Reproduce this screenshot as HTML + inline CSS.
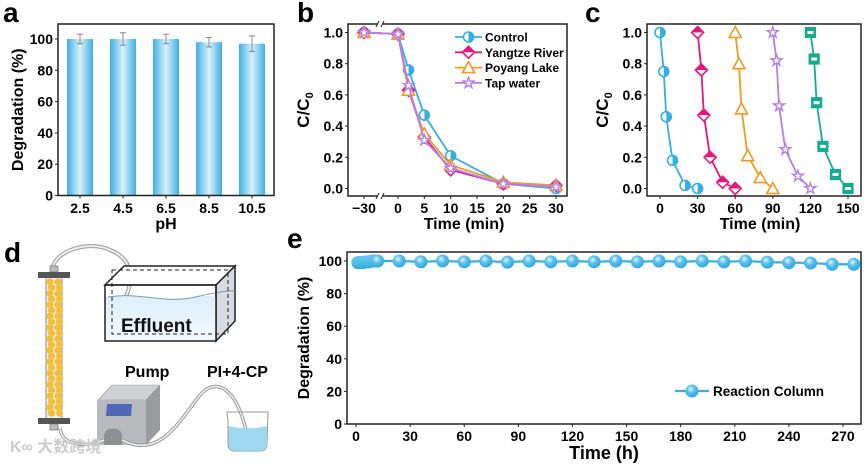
<!DOCTYPE html>
<html><head><meta charset="utf-8"><style>
body{margin:0;background:#fff;}
svg{display:block;font-family:"Liberation Sans",Arial,sans-serif;font-weight:bold;}
</style></head><body>
<svg id="fig" width="866" height="465" viewBox="0 0 866 465" xmlns="http://www.w3.org/2000/svg">
<defs>
<linearGradient id="barg" x1="0" x2="1" y1="0" y2="0">
<stop offset="0" stop-color="#3fb0e3"/><stop offset="0.5" stop-color="#d8f0fb"/><stop offset="1" stop-color="#3fb0e3"/></linearGradient>
<radialGradient id="ballg" cx="0.4" cy="0.35" r="0.7"><stop offset="0" stop-color="#e6f6fd"/><stop offset="0.4" stop-color="#5cc3ee"/><stop offset="1" stop-color="#2aa3da"/></radialGradient>
<linearGradient id="waterg" x1="0" x2="0" y1="0" y2="1"><stop offset="0" stop-color="#dceefb"/><stop offset="1" stop-color="#f4f9fd"/></linearGradient>
</defs>
<g id="pa"></g>
<g id="pb"></g>
<g id="pc"></g>
<g id="pd">
<text x="4" y="262" font-size="28">d</text>
<path d="M52 272 C52 250 90 240 110 250 C140 262 130 290 123 302" fill="none" stroke="#999" stroke-width="4"/>
<path d="M52 272 C52 250 90 240 110 250 C140 262 130 290 123 302" fill="none" stroke="#eee" stroke-width="2"/>
<rect x="46" y="277" width="16" height="143" fill="#eef2f6" stroke="#888"/>
<g id="beads"></g>
<rect x="38" y="272" width="32" height="6" fill="#555"/>
<rect x="38" y="418" width="32" height="6" fill="#555"/>
<rect x="50" y="266" width="8" height="6" fill="#bbb" stroke="#666" stroke-width="0.6"/>
<rect x="50" y="424" width="8" height="6" fill="#bbb" stroke="#666" stroke-width="0.6"/>
<polygon points="105,285 124,266 235,266 216,285" fill="#fff" stroke="#222" stroke-width="1.5"/>
<polygon points="216,285 235,266 235,321 216,341" fill="#d7dbe1" stroke="#222" stroke-width="1.5"/>
<path d="M108 297 C140 292 160 303 190 298 C205 295 212 296 216 297 L216 341 L105 341 L105 297 Z" fill="url(#waterg)"/>
<path d="M108 297 C140 292 160 303 190 298 C205 295 225 290 235 291" fill="none" stroke="#7d97b8" stroke-width="1"/>
<rect x="105" y="285" width="111" height="56" fill="none" stroke="#222" stroke-width="1.5"/>
<rect x="112" y="270" width="116" height="64" fill="none" stroke="#222" stroke-width="1" stroke-dasharray="4,3"/>
<text x="121" y="332" font-size="19" fill="#111">Effluent</text>
<text x="125" y="377" font-size="16">Pump</text>
<text x="207" y="377" font-size="16">PI+4-CP</text>
<polygon points="98,400 112,385 160,385 146,400" fill="#cfd0d3" stroke="#999" stroke-width="0.6"/>
<polygon points="146,400 160,385 160,430 146,445" fill="#9a9b9e"/>
<rect x="97" y="400" width="49" height="45" fill="#b8b9bc"/>
<polygon points="107,404 132,404 131,416 106,416" fill="#4f68b8"/>
<path d="M104 445 L104 436 C104 426 122 426 122 436 L122 445 Z" fill="#8e8f92"/>
<path d="M60 428 C62 450 95 445 104 440" fill="none" stroke="#999" stroke-width="3.5"/>
<path d="M60 428 C62 450 95 445 104 440" fill="none" stroke="#eee" stroke-width="1.6"/>
<path d="M122 440 C160 460 180 420 200 395 C215 378 235 385 246 430" fill="none" stroke="#999" stroke-width="3.5"/>
<path d="M122 440 C160 460 180 420 200 395 C215 378 235 385 246 430" fill="none" stroke="#eee" stroke-width="1.6"/>
<path d="M228 421 L227 412 L268 412 L267 444 C267 449 264 451 260 451 L235 451 C231 451 228 449 228 444 Z" fill="none" stroke="#999" stroke-width="1"/>
<path d="M228.5 426 C240 429 255 429 267 426 L267 444 C267 449 264 451 260 451 L235 451 C231 451 228.5 449 228.5 444 Z" fill="#8ed2ee" opacity="0.85"/>
<text x="10" y="452" font-size="16" fill="#ccc" font-family="'Liberation Sans','Noto Sans CJK SC',sans-serif">K∞ 大数跨境</text>
</g>
<g id="pe"></g>
</svg>
<script>
const phCats = ["2.5","4.5","6.5","8.5","10.5"];
const phVals = [100,100,100,98,97];
const phErr = [3,4,3,3,5];
const degTicks = [0,20,40,60,80,100];
const bTimes = [-30,0,2,5,10,20,30];
const bControl = [1,0.99,0.76,0.47,0.21,0.03,0.0];
const bYangtze = [1,0.99,0.63,0.33,0.12,0.03,0.02];
const bPoyang = [1,0.99,0.63,0.35,0.15,0.04,0.02];
const bTap = [1,0.99,0.66,0.31,0.13,0.03,0.01];
const bXTicks = [-30,0,5,10,15,20,25,30];
const ccTicks = [0,0.2,0.4,0.6,0.8,1.0];
const cTimes1 = [0,3,5,10,20,30];
const cVals1 = [1,0.75,0.46,0.18,0.02,0.0];
const cTimes2 = [30,33,35,40,50,60];
const cVals2 = [1,0.76,0.47,0.2,0.04,0.0];
const cTimes3 = [60,63,65,70,80,90];
const cVals3 = [1,0.8,0.51,0.21,0.07,0.0];
const cTimes4 = [90,93,95,100,110,120];
const cVals4 = [1,0.82,0.53,0.25,0.08,0.0];
const cTimes5 = [120,123,125,130,140,150];
const cVals5 = [1,0.83,0.55,0.27,0.09,0.0];
const cXTicks = [0,30,60,90,120,150];
const eTimes = [1,2,3,4,5,6,7,8,9,10,11,12,24,36,48,60,72,84,96,108,120,132,144,156,168,180,192,204,216,228,240,252,264,276];
const eVals = [99,99,99,99,99.3,99.5,99.5,99.7,100,100,100,100,100,99.5,100,99.5,100,99.3,100,99.5,100,99.5,100,99.5,100,99.5,100,99.5,100,99.3,99,98.8,98,98];
const eXTicks = [0,30,60,90,120,150,180,210,240,270];

const NS="http://www.w3.org/2000/svg";
function mk(parent,tag,attrs,text){const e=document.createElementNS(NS,tag);for(const k in attrs)e.setAttribute(k,attrs[k]);if(text!==undefined)e.textContent=text;parent.appendChild(e);return e;}
function lin(d0,d1,r0,r1){return v=>r0+(v-d0)*(r1-r0)/(d1-d0);}

(function(){
const g=document.getElementById('pa');
const L=58,R=274,T=24,B=195.5;
const y=lin(0,100,B,39);
const x=i=>80+i*43;
let t=mk(g,'text',{x:3,y:22,'font-size':28});t.textContent='a';


phVals.forEach((v,i)=>{
 let r=mk(g,'rect',{x:x(i)-13,y:y(v),width:26,height:B-y(v),fill:'url(#barg)'});
 
 
 let e=mk(g,'path',{d:`M${x(i)} ${y(v+phErr[i])}V${y(v-phErr[i])}M${x(i)-3} ${y(v+phErr[i])}H${x(i)+3}M${x(i)-3} ${y(v-phErr[i])}H${x(i)+3}`,stroke:'#888',fill:'none','stroke-width':1});
 
 
 let l=mk(g,'text',{x:x(i),y:213,'font-size':14,'text-anchor':'middle'},phCats[i]);
 
 
 mk(g,'line',{x1:x(i),x2:x(i),y1:B,y2:B+3,stroke:'#222'});
});
degTicks.forEach(v=>{mk(g,'line',{x1:L-3,x2:L,y1:y(v),y2:y(v),stroke:'#222'});
 let l=mk(g,'text',{x:L-5,y:y(v)+5,'font-size':14,'text-anchor':'end'},v);
 
 });
let f=mk(g,'rect',{x:L,y:T,width:R-L,height:B-T,fill:'none',stroke:'#222','stroke-width':1.5});


let xt=mk(g,'text',{x:166,y:229,'font-size':16,'text-anchor':'middle'},'pH');


let yt=mk(g,'text',{x:0,y:0,'font-size':16,'text-anchor':'middle',transform:`translate(23,${(T+B)/2}) rotate(-90)`},'Degradation (%)');


})();

function marker(g,type,cx,cy,col){
 let s=5;
 if(type==='circle'){mk(g,'circle',{cx,cy,r:s,fill:'#fff',stroke:col,'stroke-width':1.6});mk(g,'path',{d:`M${cx} ${cy-s}A${s} ${s} 0 0 1 ${cx} ${cy+s}Z`,fill:col});}
 else if(type==='diamond'){mk(g,'path',{d:`M${cx} ${cy-s-1}L${cx+s+1} ${cy}L${cx} ${cy+s+1}L${cx-s-1} ${cy}Z`,fill:'#fff',stroke:col,'stroke-width':1.6});mk(g,'path',{d:`M${cx} ${cy-s-1}L${cx+s+1} ${cy}L${cx-s-1} ${cy}Z`,fill:col});}
 else if(type==='tri'){mk(g,'path',{d:`M${cx} ${cy-s-1}L${cx+s+1} ${cy+s}L${cx-s-1} ${cy+s}Z`,fill:'#fff',stroke:col,'stroke-width':1.6});}
 else if(type==='star'){let p=[];for(let k=0;k<10;k++){let a=-Math.PI/2+k*Math.PI/5,r=k%2?s*0.45:s*1.15;p.push((cx+r*Math.cos(a)).toFixed(1)+','+(cy+r*Math.sin(a)).toFixed(1));}mk(g,'polygon',{points:p.join(' '),fill:'#fff',stroke:col,'stroke-width':1.4});}
 else if(type==='square'){mk(g,'rect',{x:cx-s,y:cy-s,width:2*s,height:2*s,fill:col,stroke:col,'stroke-width':1.2});mk(g,'rect',{x:cx-s+2,y:cy-1.5,width:2*s-4,height:3,fill:'#fff'});}
}
function series(parent,name,xs,ys,xf,yf,col,type){
 const g=mk(parent,'g',{});
 
 
 mk(g,'polyline',{points:xs.map((t,i)=>xf(t)+','+yf(ys[i])).join(' '),fill:'none',stroke:col,'stroke-width':1.8});
 xs.forEach((t,i)=>marker(g,type,xf(t),yf(ys[i]),col));
}
function yAxisCC(g,L,y){
 ccTicks.forEach(v=>{mk(g,'line',{x1:L-3,x2:L,y1:y(v),y2:y(v),stroke:'#222'});
  let l=mk(g,'text',{x:L-5,y:y(v)+5,'font-size':14,'text-anchor':'end'},v.toFixed(1));
  
  });
}
function ccTitle(g,xx){
 let yt=mk(g,'text',{x:0,y:0,'font-size':17,'text-anchor':'middle',transform:`translate(${xx},110) rotate(-90)`});
 yt.innerHTML='C/C<tspan font-size="11" dy="4">0</tspan>';
 
 
}
const COLS=['#35aee2','#e5167f','#f39a1e','#b57ef0','#14ab93'];

(function(){
const g=document.getElementById('pb');
const L=348,R=567,T=24,B=196;
const y=lin(0,1,188.5,32.5);
const xr=lin(0,30,398,556);
const x=t=>t<=-30?364:xr(t);
let t=mk(g,'text',{x:297,y:22,'font-size':28},'b');


let f=mk(g,'rect',{x:L,y:T,width:R-L,height:B-T,fill:'none',stroke:'#222','stroke-width':1.5});


mk(g,'rect',{x:378,y:T-4,width:5,height:8,fill:'#fff'});mk(g,'rect',{x:378,y:B-4,width:5,height:8,fill:'#fff'});
mk(g,'path',{d:`M376 ${T+3}l3 -6M381 ${T+3}l3 -6M376 ${B+3}l3 -6M381 ${B+3}l3 -6`,stroke:'#222','stroke-width':1});
yAxisCC(g,L,y);
bXTicks.forEach(v=>{mk(g,'line',{x1:x(v),x2:x(v),y1:B,y2:B+3,stroke:'#222'});
 let l=mk(g,'text',{x:x(v),y:213,'font-size':14,'text-anchor':'middle'},v<0?'\u2212'+(-v):v);
 
 });
ccTitle(g,309);
let xt=mk(g,'text',{x:464,y:229,'font-size':16,'text-anchor':'middle'},'Time (min)');


series(g,'series-control',bTimes,bControl,x,y,COLS[0],'circle');
series(g,'series-yangtze-river',bTimes,bYangtze,x,y,COLS[1],'diamond');
series(g,'series-poyang-lake',bTimes,bPoyang,x,y,COLS[2],'tri');
series(g,'series-tap-water',bTimes,bTap,x,y,COLS[3],'star');
const names=['Control','Yangtze River','Poyang Lake','Tap water'],types=['circle','diamond','tri','star'];
const lg=mk(g,'g',{});


names.forEach((n,i)=>{const yy=37+i*15.3;
 const e=mk(lg,'g',{});
 
 
 mk(e,'line',{x1:455,x2:482,y1:yy,y2:yy,stroke:COLS[i],'stroke-width':1.8});
 marker(e,types[i],468.5,yy,COLS[i]);
 mk(e,'text',{x:485,y:yy+4.5,'font-size':12},n);});
})();

(function(){
const g=document.getElementById('pc');
const L=647,R=861,T=24,B=196;
const y=lin(0,1,188.5,32.5);
const x=lin(0,150,660,848);
let t=mk(g,'text',{x:585,y:22,'font-size':28},'c');


let f=mk(g,'rect',{x:L,y:T,width:R-L,height:B-T,fill:'none',stroke:'#222','stroke-width':1.5});


yAxisCC(g,L,y);
cXTicks.forEach(v=>{mk(g,'line',{x1:x(v),x2:x(v),y1:B,y2:B+3,stroke:'#222'});
 let l=mk(g,'text',{x:x(v),y:213,'font-size':14,'text-anchor':'middle'},v);
 
 });
ccTitle(g,608);
let xt=mk(g,'text',{x:760,y:229,'font-size':16,'text-anchor':'middle'},'Time (min)');


series(g,'cycle-1',cTimes1,cVals1,x,y,COLS[0],'circle');
series(g,'cycle-2',cTimes2,cVals2,x,y,COLS[1],'diamond');
series(g,'cycle-3',cTimes3,cVals3,x,y,COLS[2],'tri');
series(g,'cycle-4',cTimes4,cVals4,x,y,COLS[3],'star');
series(g,'cycle-5',cTimes5,cVals5,x,y,COLS[4],'square');
})();

(function(){
const b=document.getElementById('beads');
for(let r=0;r<24;r++)for(let c=0;c<2;c++){
 mk(b,'circle',{cx:50+c*8+(r%2)*1.5,cy:282+r*5.7,r:3.6,fill:'#f5bd3a',stroke:'#f9d77a','stroke-width':0.5});
}
})();

(function(){
const g=document.getElementById('pe');
const L=347,R=861,T=252,B=424;
const y=lin(0,100,424,261);
const x=lin(0,270,356,843);
let t=mk(g,'text',{x:287,y:248,'font-size':28},'e');


let f=mk(g,'rect',{x:L,y:T,width:R-L,height:B-T,fill:'none',stroke:'#222','stroke-width':1.5});


degTicks.forEach(v=>{mk(g,'line',{x1:L-3,x2:L,y1:y(v),y2:y(v),stroke:'#222'});
 let l=mk(g,'text',{x:L-5,y:y(v)+5,'font-size':14,'text-anchor':'end'},v);
 
 });
eXTicks.forEach(v=>{mk(g,'line',{x1:x(v),x2:x(v),y1:B,y2:B+3,stroke:'#222'});
 let l=mk(g,'text',{x:x(v),y:441,'font-size':14,'text-anchor':'middle'},v);
 
 });
let xt=mk(g,'text',{x:604,y:459,'font-size':18,'text-anchor':'middle'},'Time (h)');


let yt=mk(g,'text',{x:0,y:0,'font-size':16,'text-anchor':'middle',transform:`translate(309,${(T+B)/2}) rotate(-90)`},'Degradation (%)');


const s=mk(g,'g',{});


mk(s,'polyline',{points:eTimes.map((t,i)=>x(t)+','+y(eVals[i])).join(' '),fill:'none',stroke:'#35aee2','stroke-width':2.2});
eTimes.forEach((t,i)=>mk(s,'circle',{cx:x(t),cy:y(eVals[i]),r:6.5,fill:'url(#ballg)'}));
const lg=mk(g,'g',{});


mk(lg,'line',{x1:675,x2:709,y1:391,y2:391,stroke:'#35aee2','stroke-width':2.2});
mk(lg,'circle',{cx:692,cy:391,r:6.5,fill:'url(#ballg)'});
mk(lg,'text',{x:713,y:396,'font-size':13.5},'Reaction Column');
})();
</script>
</body></html>
